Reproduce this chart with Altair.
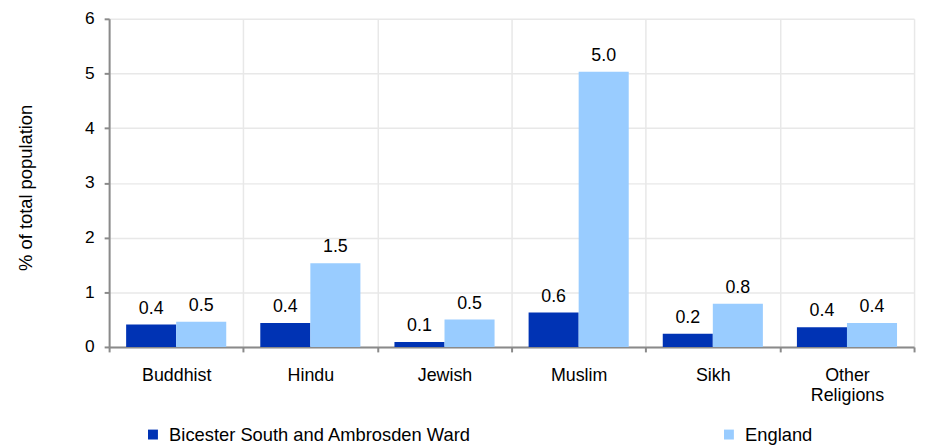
import altair as alt
import pandas as pd

categories = ["Buddhist", "Hindu", "Jewish", "Muslim", "Sikh", "Other Religions"]
series_names = ["Bicester South and Ambrosden Ward", "England"]
ward_values = [0.41, 0.44, 0.09, 0.63, 0.24, 0.36]
england_values = [0.46, 1.53, 0.50, 5.03, 0.79, 0.44]
colors = ["#0033B4", "#99CCFF"]
y_ticks = [0, 1, 2, 3, 4, 5, 6]

rows = []
for i, c in enumerate(categories):
    rows.append({"religion": c, "series": series_names[0], "value": ward_values[i]})
    rows.append({"religion": c, "series": series_names[1], "value": england_values[i]})
df = pd.DataFrame(rows)

FONT = "Liberation Sans"

base = alt.Chart(df).encode(
    x=alt.X(
        "religion:N",
        sort=categories,
        scale=alt.Scale(paddingInner=0, paddingOuter=0),
        axis=alt.Axis(
            title=None,
            labelExpr="split(datum.label, ' ')",
            labelAngle=0,
            tickBand="extent",
            grid=True,
            tickSize=5,
            labelPadding=15,
            labelLineHeight=20,
        ),
    ),
    xOffset=alt.XOffset(
        "series:N",
        sort=series_names,
        scale=alt.Scale(paddingOuter=0.34, paddingInner=0),
    ),
    y=alt.Y(
        "value:Q",
        scale=alt.Scale(domain=[0, 6], nice=False),
        axis=alt.Axis(
            values=y_ticks,
            format="d",
            title="% of total population",
            tickSize=5,
            labelPadding=10,
            labelFontSize=17.5,
            titleX=-74,
            titleY=170,
            titleAngle=-90,
            titleBaseline="bottom",
            titleAlign="center",
        ),
    ),
)

bars = base.mark_bar().encode(
    color=alt.Color(
        "series:N",
        scale=alt.Scale(domain=series_names, range=colors),
        legend=alt.Legend(
            title=None,
            orient="none",
            legendX=35,
            legendY=410,
            direction="horizontal",
            symbolType="square",
            symbolSize=100,
            symbolStrokeWidth=0,
            labelFont=FONT,
            labelFontSize=18.5,
            labelColor="#000000",
            labelOffset=7,
            labelLimit=500,
            columnPadding=250,
        ),
    )
)

labels = base.mark_text(
    baseline="bottom", dy=-7, font=FONT, fontSize=18, color="#000000"
).encode(text=alt.Text("value:Q", format=".1f"))

chart = (
    alt.layer(bars, labels)
    .properties(
        width=812,
        height=331,
        autosize=alt.AutoSizeParams(type="none"),
        padding={"left": 102, "top": 9, "right": 6, "bottom": 98},
    )
    .configure_view(stroke=None)
    .configure_axis(
        labelFont=FONT,
        labelFontSize=18,
        labelColor="#000000",
        titleFont=FONT,
        titleFontSize=18.5,
        titleFontWeight="normal",
        titleColor="#000000",
        domainColor="#8a8a8a",
        domainWidth=2,
        tickColor="#8a8a8a",
        tickWidth=2,
        gridColor="#e8e8e8",
        gridWidth=1.5,
    )
)

chart.save("out.html", embed_options={"renderer": "svg", "actions": False})
